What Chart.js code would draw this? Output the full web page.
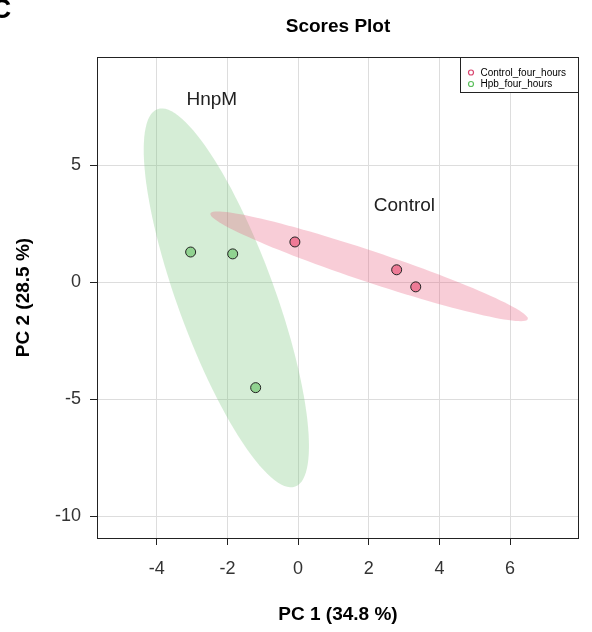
<!DOCTYPE html>
<html>
<head>
<meta charset="utf-8">
<script src="https://cdn.jsdelivr.net/npm/chart.js@4"></script>
<style>
  html, body { margin: 0; padding: 0; background: #fff; }
  #wrap { width: 592px; height: 632px; }
</style>
</head>
<body>
<div id="wrap"><canvas id="scores" width="592" height="632"></canvas></div>
<script>
// Scores plot (PCA)
var xTicks = [-4, -2, 0, 2, 4, 6];
var yTicks = [-10, -5, 0, 5];

var controlX = [-0.09, 2.79, 3.33];
var controlY = [1.72, 0.53, -0.20];
var hpbX = [-3.04, -1.85, -1.20];
var hpbY = [1.29, 1.21, -4.51];

// elipses de confiança: centro e semi-eixos (unidades dos dados)
var controlEllipseCenter = [2.01, 0.68];
var controlEllipseMajor = [4.49, -2.26];
var controlEllipseMinor = [0.14, 0.63];
var hpbEllipseCenter = [-2.03, -0.67];
var hpbEllipseMajor = [-1.95, 8.07];
var hpbEllipseMinor = [1.29, 0.71];

var groupLabels = ['HnpM', 'Control'];
var groupLabelX = [-2.44, 3.01];
var groupLabelY = [7.78, 3.28];

var legendLabels = ['Control_four_hours', 'Hpb_four_hours'];

function toPoints(xs, ys) {
    var pts = [];
    for (var i = 0; i < xs.length; i++) pts.push({ x: xs[i], y: ys[i] });
    return pts;
}

var ellipsePlugin = {
    id: 'ellipses',
    beforeDatasetsDraw: function(chart) {
        var ctx = chart.ctx, xs = chart.scales.x, ys = chart.scales.y, area = chart.chartArea;
        var list = [
            { c: hpbEllipseCenter, a: hpbEllipseMajor, b: hpbEllipseMinor, color: 'rgba(115,195,118,0.30)' },
            { c: controlEllipseCenter, a: controlEllipseMajor, b: controlEllipseMinor, color: 'rgba(232,88,122,0.30)' }
        ];
        ctx.save();
        ctx.beginPath();
        ctx.rect(area.left, area.top, area.right - area.left, area.bottom - area.top);
        ctx.clip();
        for (var k = 0; k < list.length; k++) {
            var e = list[k];
            ctx.beginPath();
            for (var i = 0; i <= 120; i++) {
                var t = i / 120 * Math.PI * 2;
                var dx = e.c[0] + Math.cos(t) * e.a[0] + Math.sin(t) * e.b[0];
                var dy = e.c[1] + Math.cos(t) * e.a[1] + Math.sin(t) * e.b[1];
                var px = xs.getPixelForValue(dx), py = ys.getPixelForValue(dy);
                if (i === 0) ctx.moveTo(px, py); else ctx.lineTo(px, py);
            }
            ctx.closePath();
            ctx.fillStyle = e.color;
            ctx.fill();
        }
        ctx.restore();
    }
};

var decorPlugin = {
    id: 'decor',
    afterDraw: function(chart) {
        var ctx = chart.ctx, area = chart.chartArea, xs = chart.scales.x, ys = chart.scales.y;
        var cx = (area.left + area.right) / 2;
        ctx.save();
        // caixa
        ctx.strokeStyle = '#222';
        ctx.lineWidth = 1;
        ctx.strokeRect(Math.round(area.left) + 0.5, Math.round(area.top) + 0.5,
            Math.round(area.right - area.left) - 1, Math.round(area.bottom - area.top));

        // letra do painel
        ctx.fillStyle = '#000';
        ctx.font = 'bold 28px "Liberation Sans", Arial, sans-serif';
        ctx.textAlign = 'left';
        ctx.textBaseline = 'alphabetic';
        ctx.fillText('C', -9, 18);

        // título
        ctx.font = 'bold 19px "Liberation Sans", Arial, sans-serif';
        ctx.textAlign = 'center';
        ctx.fillText('Scores Plot', cx, 31.5);

        // títulos dos eixos
        ctx.fillText('PC 1 (34.8 %)', cx, 620);
        ctx.save();
        ctx.translate(29, (area.top + area.bottom) / 2);
        ctx.rotate(-Math.PI / 2);
        ctx.fillText('PC 2 (28.5 %)', 0, 0);
        ctx.restore();

        // rótulos dos grupos
        ctx.font = '19px "Liberation Sans", Arial, sans-serif';
        ctx.fillStyle = '#222';
        ctx.textBaseline = 'middle';
        for (var i = 0; i < groupLabels.length; i++) {
            ctx.fillText(groupLabels[i], xs.getPixelForValue(groupLabelX[i]), ys.getPixelForValue(groupLabelY[i]));
        }

        // legenda
        var lx = 460.5, ly = Math.round(area.top) + 0.5, lw = Math.round(area.right) - 0.5 - lx, lh = 35;
        ctx.fillStyle = '#fff';
        ctx.fillRect(lx, ly, lw, lh);
        ctx.strokeStyle = '#222';
        ctx.strokeRect(lx, ly, lw, lh);
        var legendColors = ['#d9466f', '#5cbf5c'];
        ctx.font = '10px "Liberation Sans", Arial, sans-serif';
        ctx.textAlign = 'left';
        for (var j = 0; j < legendLabels.length; j++) {
            var yy = ly + 15 + j * 11.5;
            ctx.beginPath();
            ctx.arc(lx + 10.5, yy, 2.5, 0, Math.PI * 2);
            ctx.strokeStyle = legendColors[j];
            ctx.lineWidth = 1.2;
            ctx.stroke();
            ctx.fillStyle = '#000';
            ctx.fillText(legendLabels[j], lx + 20, yy + 0.5);
        }
        ctx.restore();
    }
};

var tickFont = { family: '"Liberation Sans", Arial, sans-serif', size: 18 };

new Chart(document.getElementById('scores'), {
    type: 'scatter',
    data: {
        datasets: [
            {
                label: legendLabels[0],
                data: toPoints(controlX, controlY),
                backgroundColor: 'rgb(238,122,150)',
                borderColor: '#222',
                borderWidth: 1,
                pointRadius: 5
            },
            {
                label: legendLabels[1],
                data: toPoints(hpbX, hpbY),
                backgroundColor: 'rgb(144,210,144)',
                borderColor: '#222',
                borderWidth: 1,
                pointRadius: 5
            }
        ]
    },
    options: {
        responsive: false,
        animation: false,
        events: [],
        layout: { padding: { top: 57, right: 13, left: 0, bottom: 0 } },
        plugins: {
            legend: { display: false },
            tooltip: { enabled: false },
            title: { display: false }
        },
        scales: {
            x: {
                type: 'linear',
                min: -5.69,
                max: 7.95,
                afterBuildTicks: function(scale) {
                    scale.ticks = xTicks.map(function(v) { return { value: v }; });
                },
                afterFit: function(scale) { scale.height = 94; },
                grid: { color: '#dddddd', lineWidth: 1, tickColor: '#222', tickLength: 7 },
                border: { display: false },
                ticks: { font: tickFont, color: '#333', padding: 13, maxRotation: 0 }
            },
            y: {
                type: 'linear',
                min: -10.94,
                max: 9.63,
                afterBuildTicks: function(scale) {
                    scale.ticks = yTicks.map(function(v) { return { value: v }; });
                },
                afterFit: function(scale) { scale.width = 97; },
                grid: { color: '#dddddd', lineWidth: 1, tickColor: '#222', tickLength: 7 },
                border: { display: false },
                ticks: { font: tickFont, color: '#333', padding: 9 }
            }
        }
    },
    plugins: [ellipsePlugin, decorPlugin]
});
</script>
</body>
</html>
